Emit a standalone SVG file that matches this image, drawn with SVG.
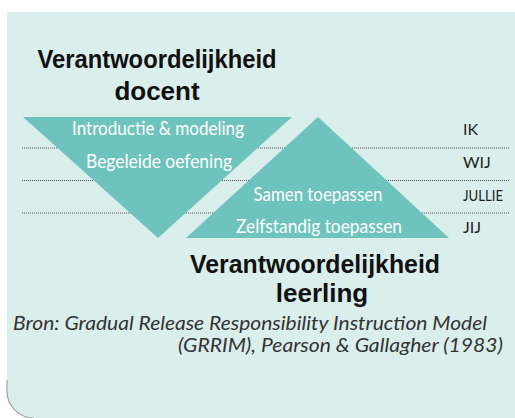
<svg xmlns="http://www.w3.org/2000/svg" width="515" height="418" viewBox="0 0 515 418">
<defs>
<style>
.bg{fill:#daeeec}
.tri{fill:#6fc3bd}
.sep{stroke:#555;stroke-width:1;stroke-dasharray:1 1;fill:none}
.lbl{font-family:"Lato","Liberation Sans",sans-serif;font-size:19px;fill:#ffffff;text-anchor:middle}
.who{font-family:"Lato","Liberation Sans",sans-serif;font-size:16px;fill:#222}
.title{font-family:"Liberation Sans",Arial,sans-serif;font-weight:bold;font-size:26px;fill:#111;text-anchor:middle}
.src{font-family:"Lato","Liberation Sans",sans-serif;font-style:italic;font-size:19px;fill:#333}
</style>
</defs>
<path class="bg" d="M7 12 H515 V418 H34 A27 27 0 0 1 7 391 Z"/>
<path d="M7 380 V391 A27 27 0 0 0 34 418" fill="none" stroke="#9aa6a5" stroke-width="1.2"/>
<g id="connectors">
<line class="sep" x1="22" y1="148" x2="509" y2="148"/>
<line class="sep" x1="22" y1="180.5" x2="509" y2="180.5"/>
<line class="sep" x1="22" y1="213" x2="509" y2="213"/>
</g>
<g id="triangle-docent">
<polygon class="tri" points="23,117 292,117 158,238"/>
</g>
<g id="triangle-leerling">
<polygon class="tri" points="318,117 449,238 186,238"/>
</g>
<g id="stage-ik">
<text class="lbl" x="158" y="135" textLength="172" lengthAdjust="spacingAndGlyphs">Introductie &amp; modeling</text>
<text class="who" x="463" y="135">IK</text>
</g>
<g id="stage-wij">
<text class="lbl" x="159" y="168" textLength="146" lengthAdjust="spacingAndGlyphs">Begeleide oefening</text>
<text class="who" x="463" y="168">WIJ</text>
</g>
<g id="stage-jullie">
<text class="lbl" x="318" y="200.5" textLength="129" lengthAdjust="spacingAndGlyphs">Samen toepassen</text>
<text class="who" x="463" y="200.5" textLength="40" lengthAdjust="spacingAndGlyphs">JULLIE</text>
</g>
<g id="stage-jij">
<text class="lbl" x="319" y="233" textLength="166" lengthAdjust="spacingAndGlyphs">Zelfstandig toepassen</text>
<text class="who" x="463" y="233">JIJ</text>
</g>
<g id="title-docent">
<text class="title" x="157" y="68" textLength="239" lengthAdjust="spacingAndGlyphs">Verantwoordelijkheid</text>
<text class="title" x="157" y="100">docent</text>
</g>
<g id="title-leerling">
<text class="title" x="315" y="273" textLength="250" lengthAdjust="spacingAndGlyphs">Verantwoordelijkheid</text>
<text class="title" x="322" y="302">leerling</text>
</g>
<g id="source">
<text class="src" x="13" y="330" textLength="474" lengthAdjust="spacingAndGlyphs">Bron: Gradual Release Responsibility Instruction Model</text>
<text class="src" x="503" y="352" text-anchor="end" textLength="325" lengthAdjust="spacingAndGlyphs">(GRRIM), Pearson &amp; Gallagher (1983)</text>
</g>
</svg>
